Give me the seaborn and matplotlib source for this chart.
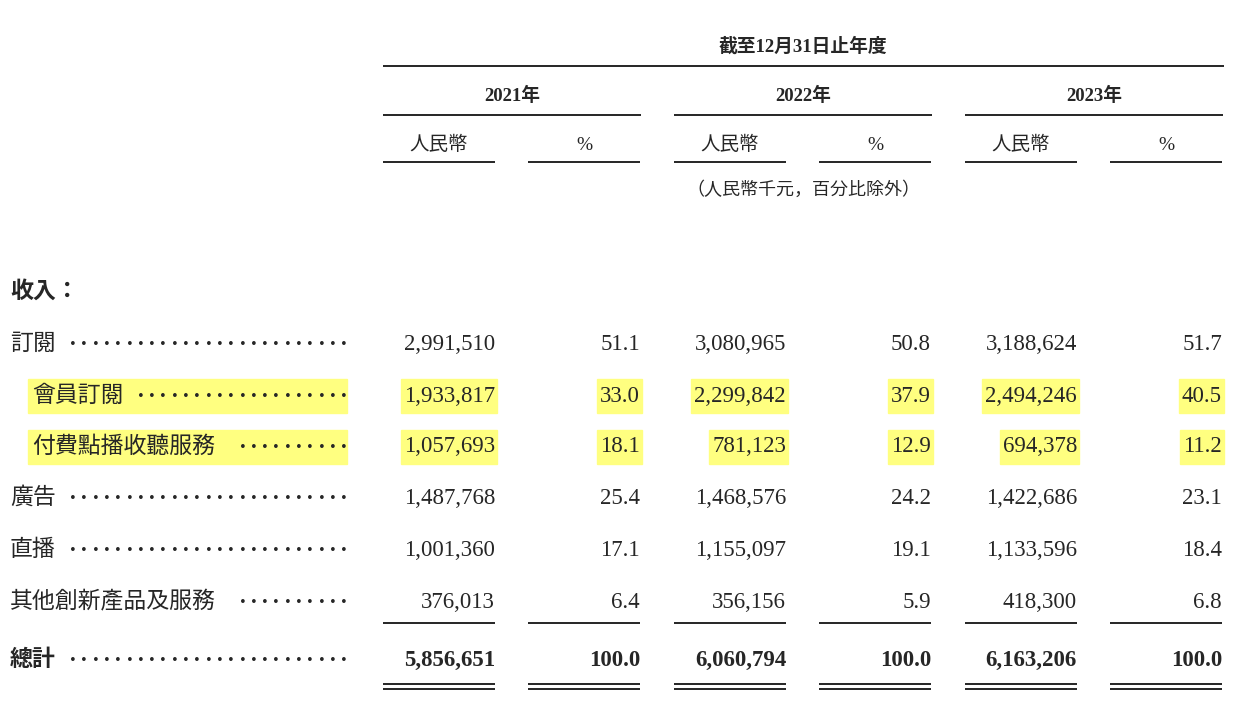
import matplotlib
matplotlib.use("Agg")
import matplotlib.pyplot as plt
import seaborn as sns

sns.set_theme(style="white")
FONT = ["Liberation Serif", "Noto Sans CJK TC", "Noto Sans CJK JP", "Noto Sans CJK SC", "Noto Sans CJK KR"]
plt.rcParams["font.family"] = FONT

years = ["2021年", "2022年", "2023年"]
labels = ["訂閱", "會員訂閱", "付費點播收聽服務", "廣告", "直播", "其他創新產品及服務", "總計"]
indent = [False, True, True, False, False, False, False]
highlight = [False, True, True, False, False, False, False]
rmb = [
    ["2,991,510", "3,080,965", "3,188,624"],
    ["1,933,817", "2,299,842", "2,494,246"],
    ["1,057,693", "781,123", "694,378"],
    ["1,487,768", "1,468,576", "1,422,686"],
    ["1,001,360", "1,155,097", "1,133,596"],
    ["376,013", "356,156", "418,300"],
    ["5,856,651", "6,060,794", "6,163,206"],
]
pct = [
    ["51.1", "50.8", "51.7"],
    ["33.0", "37.9", "40.5"],
    ["18.1", "12.9", "11.2"],
    ["25.4", "24.2", "23.1"],
    ["17.1", "19.1", "18.4"],
    ["6.4", "5.9", "6.8"],
    ["100.0", "100.0", "100.0"],
]

fig = plt.figure(figsize=(12.56, 7.2), dpi=100)
ax = fig.add_axes([0, 0, 1, 1])
ax.set_xlim(0, 1256)
ax.set_ylim(720, 0)
ax.axis("off")

FS = 16.5
YEL = "#ffff80"
grp_left = [383, 674, 965]
col_w = 112
pct_off = 145
row_y = [344, 396, 447, 498, 550, 602, 660]

def hline(x0, x1, y, lw=1.2):
    ax.plot([x0, x1], [y, y], color="black", lw=lw, solid_capstyle="butt")

# header
ax.text(803, 47, "截至12月31日止年度", ha="center", va="center", fontsize=13.5, fontweight="bold")
hline(383, 1224, 66)
for g, yr in zip(grp_left, years):
    ax.text(g + 129, 96, yr, ha="center", va="center", fontsize=13.5, fontweight="bold")
    hline(g, g + 258, 115)
    ax.text(g + 56, 145, "人民幣", ha="center", va="center", fontsize=14)
    ax.text(g + pct_off + 56, 145, "%", ha="center", va="center", fontsize=14)
    hline(g, g + col_w, 162)
    hline(g + pct_off, g + pct_off + col_w, 162)
ax.text(803, 190, "（人民幣千元，百分比除外）", ha="center", va="center", fontsize=13, style="italic")
ax.text(10, 292, "收入：", ha="left", va="center", fontsize=FS, fontweight="bold")

fig.canvas.draw()
r = fig.canvas.get_renderer()
inv = ax.transData.inverted()

for i, lab in enumerate(labels):
    y = row_y[i]
    bold = "bold" if i == len(labels) - 1 else "normal"
    x0 = 32 if indent[i] else 10
    if highlight[i]:
        ax.add_patch(plt.Rectangle((x0 - 4, y - 17), 347 - x0 + 4, 34, color=YEL, zorder=0))
    t = ax.text(x0, y, lab, ha="left", va="center", fontsize=FS, fontweight=bold)
    bb = t.get_window_extent(r)
    xe = inv.transform((bb.x1, bb.y0))[0]
    n = int((347 - xe - 8) // 11.3)
    for k in range(n):
        ax.text(347 - k * 11.3, y + 6, ".", ha="right", va="bottom", fontsize=FS, fontweight="bold")
    for j, g in enumerate(grp_left):
        xr1, xr2 = g + col_w, g + pct_off + col_w
        t1 = ax.text(xr1, y, rmb[i][j], ha="right", va="center", fontsize=FS, fontweight=bold)
        t2 = ax.text(xr2, y, pct[i][j], ha="right", va="center", fontsize=FS, fontweight=bold)
        if highlight[i]:
            for tt, xr in ((t1, xr1), (t2, xr2)):
                b = tt.get_window_extent(r)
                w = inv.transform((b.x1, 0))[0] - inv.transform((b.x0, 0))[0]
                ax.add_patch(plt.Rectangle((xr - w - 3, y - 17), w + 5, 34, color=YEL, zorder=0))

for g in grp_left:
    for x in (g, g + pct_off):
        hline(x, x + col_w, 623)
        hline(x, x + col_w, 684)
        hline(x, x + col_w, 689)

fig.savefig("out.png", dpi=100)
